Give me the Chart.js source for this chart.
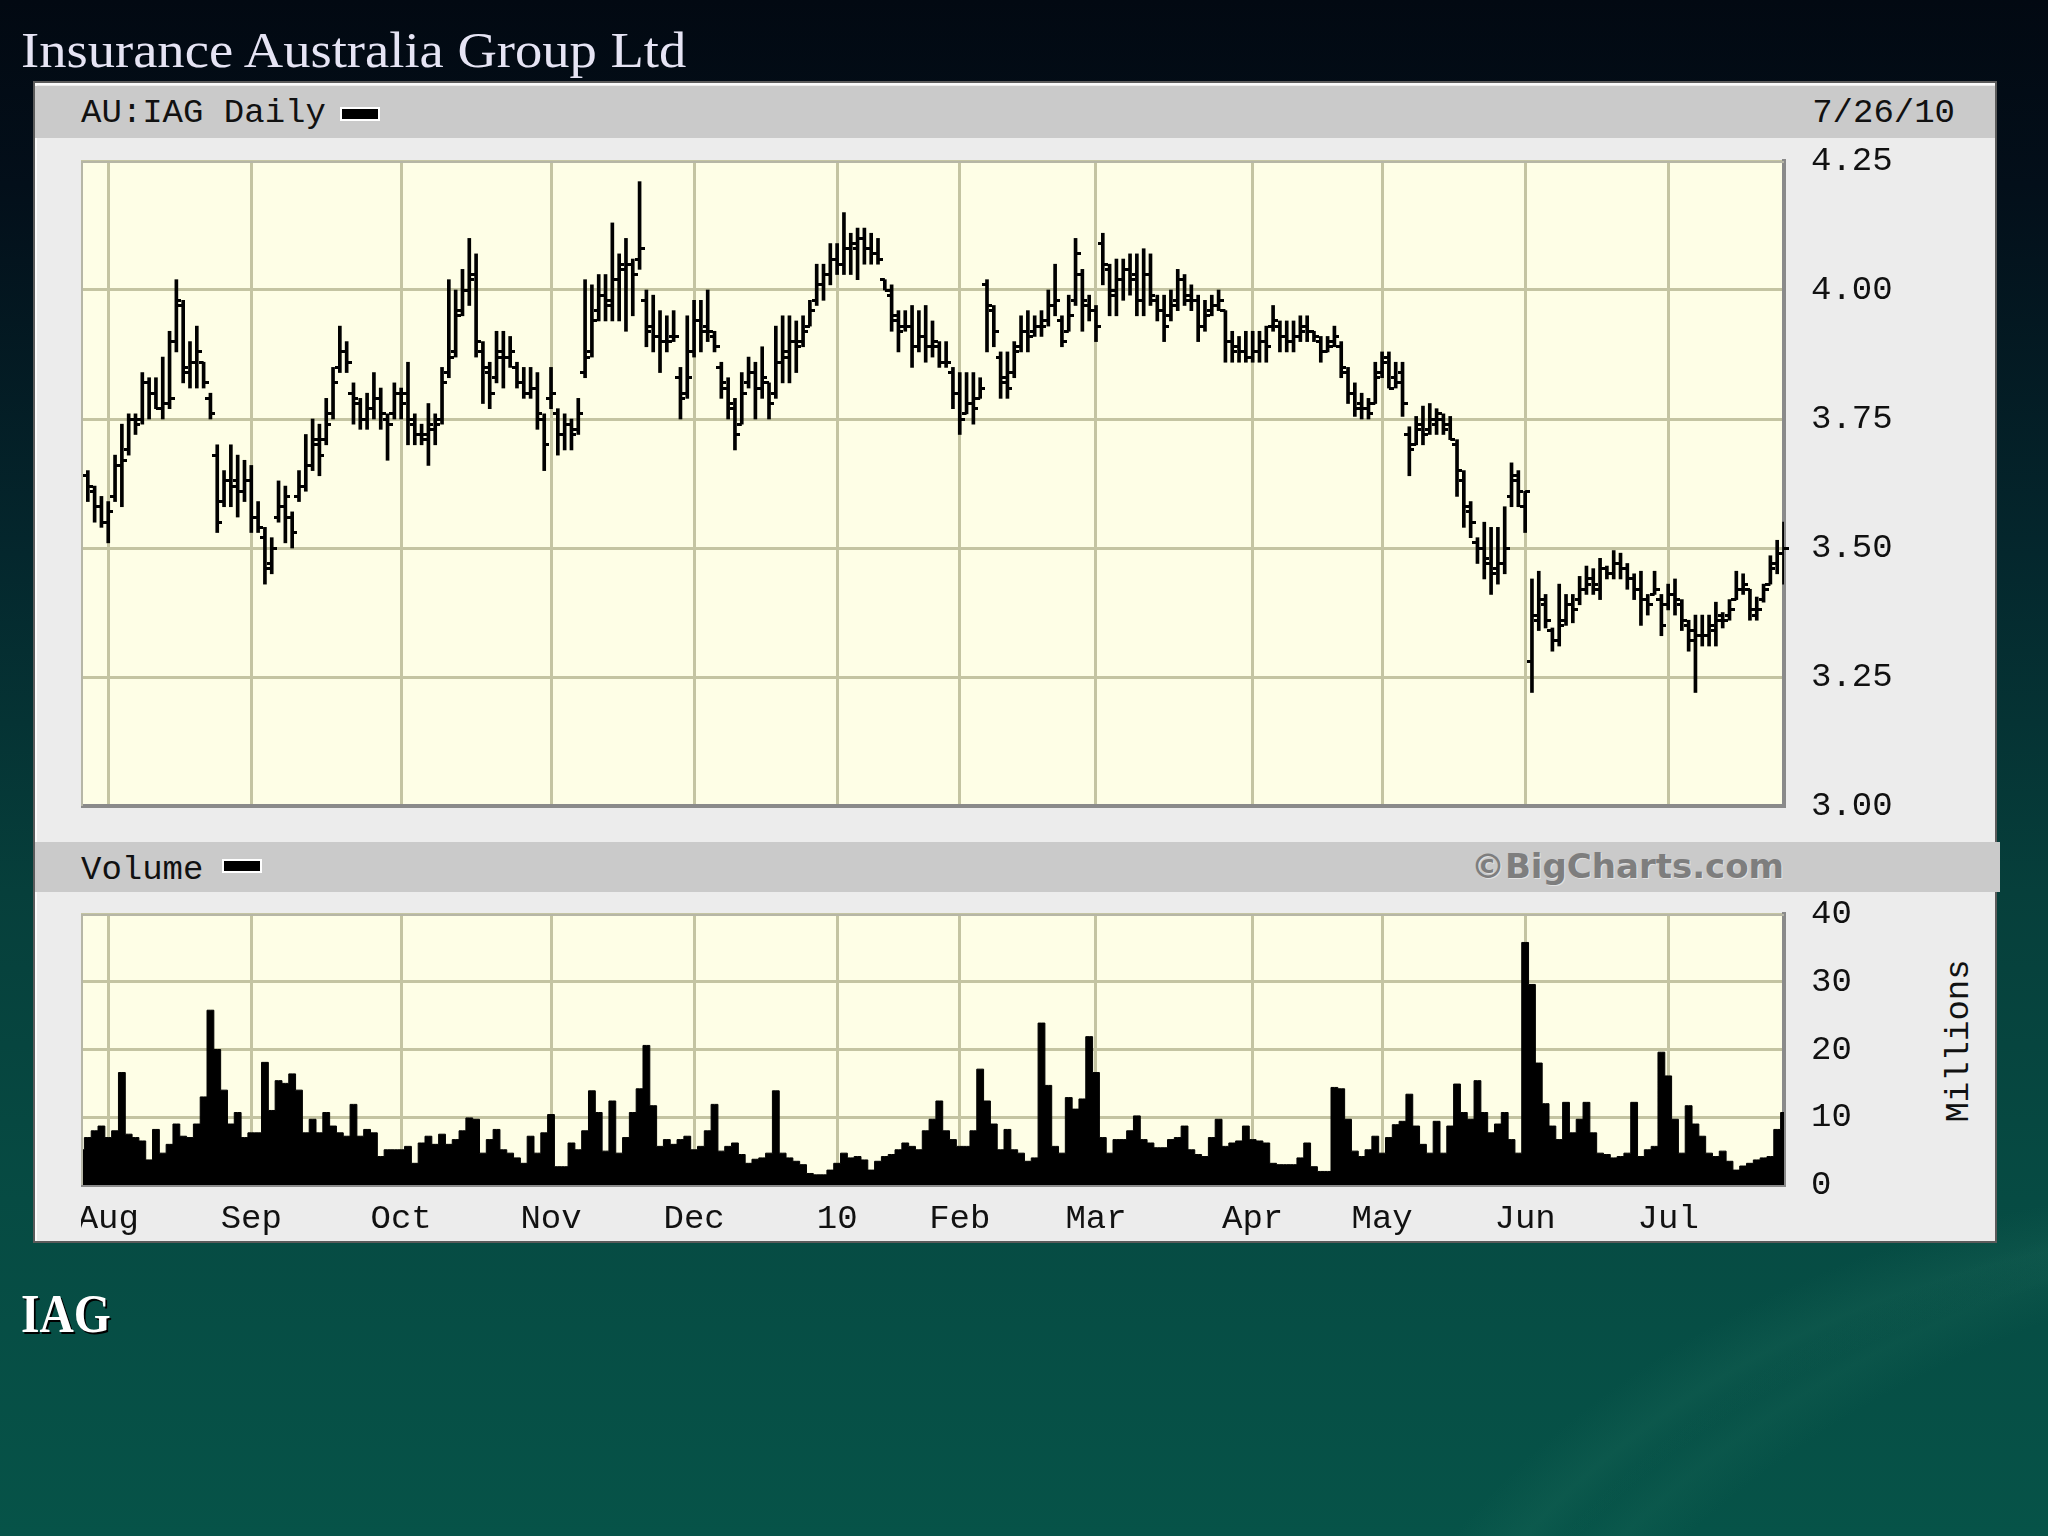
<!DOCTYPE html>
<html>
<head>
<meta charset="utf-8">
<title>Insurance Australia Group Ltd</title>
<script src="https://cdn.jsdelivr.net/npm/chart.js@4.4.1/dist/chart.umd.min.js"></script>
<style>
  html, body { margin: 0; padding: 0; }
  body {
    width: 2048px; height: 1536px; position: relative; overflow: hidden;
    background:
      radial-gradient(ellipse 1500px 1150px at 2300px 1950px, rgba(0,0,0,0) 60%, rgba(40,120,100,0.18) 63%, rgba(0,0,0,0) 67%),
      radial-gradient(ellipse 1700px 1300px at 2500px 2050px, rgba(0,0,0,0) 62%, rgba(40,120,100,0.14) 65%, rgba(0,0,0,0) 68%),
      linear-gradient(to bottom, #020912 0%, #030f1a 12%, #04272d 36%, #063f3b 58%, #064b43 78%, #065348 100%);
    font-family: "Liberation Mono", monospace;
  }
  .abs { position: absolute; white-space: nowrap; }
  #title { left: 21px; top: 25px; font: 51px/51px "Liberation Serif", serif; color: #e6e4f4; transform: scaleX(1.07); transform-origin: left top; }
  #panel { left: 33px; top: 81px; width: 1960px; height: 1158px; background: #ececec; border: 2px solid #5b5b5b; box-shadow: inset 2px 2px 0 #fbfbfb; }
  .bar { background: #cacaca; }
  .mono { font: 34px/34px "Liberation Mono", monospace; color: #111; }
  .key { width: 36px; height: 10px; background: #000; border: 2px solid #fff; }
  #brand { right: 264px; top: 849px; font: bold 34px/34px "DejaVu Sans", sans-serif; color: #7e7e7e; text-shadow: 1px 1px 0 #e2e2e2; }
  #millions { left: 1959px; top: 1041px; transform: translate(-50%, -50%) rotate(-90deg); }
  #iag { left: 21px; top: 1287px; font: bold 54px/54px "Liberation Serif", serif; color: #fff; text-shadow: 2px 2px 0 #000; transform: scaleX(0.88); transform-origin: left top; }
  canvas { position: absolute; }
</style>
</head>
<body>
<div id="title" class="abs">Insurance Australia Group Ltd</div>
<div id="panel" class="abs"></div>
<div class="abs bar" style="left:35px; top:86px; width:1960px; height:52px;"></div>
<div class="abs mono" style="left:81px; top:96px;">AU:IAG Daily</div>
<div class="abs key" style="left:340px; top:107px;"></div>
<div class="abs mono" style="right:93px; top:96px;">7/26/10</div>
<div class="abs bar" style="left:35px; top:842px; width:1965px; height:50px;"></div>
<div class="abs mono" style="left:81px; top:853px;">Volume</div>
<div class="abs key" style="left:222px; top:859px;"></div>
<div id="brand" class="abs">©BigCharts.com</div>
<div id="millions" class="abs mono">Millions</div>
<div id="iag" class="abs">IAG</div>

<canvas id="priceChart" width="1900" height="685" style="left:81px; top:141px;"></canvas>
<canvas id="volumeChart" width="1900" height="346" style="left:81px; top:894px;"></canvas>

<script>
// months shown on the x axis and how many trading days each has in the window
const monthNames = ['', 'Aug', 'Sep', 'Oct', 'Nov', 'Dec', '10', 'Feb', 'Mar', 'Apr', 'May', 'Jun', 'Jul'];
const tradingDays = [4, 21, 22, 22, 21, 21, 18, 20, 23, 19, 21, 21, 18];

const priceTicks = [3.00, 3.25, 3.50, 3.75, 4.00, 4.25];
const volumeTicks = [0, 10, 20, 30, 40];

const opens = [
  3.58, 3.64, 3.61, 3.58, 3.55, 3.60, 3.66, 3.69, 3.75, 3.75,
  3.82, 3.80, 3.77, 3.78, 3.90, 3.97, 3.84, 3.86, 3.86, 3.79,
  3.68, 3.59, 3.63, 3.63, 3.61, 3.63, 3.56, 3.52, 3.47, 3.56,
  3.58, 3.56, 3.60, 3.62, 3.66, 3.71, 3.71, 3.76, 3.85, 3.88,
  3.80, 3.78, 3.75, 3.77, 3.79, 3.75, 3.76, 3.80, 3.80, 3.74,
  3.72, 3.71, 3.73, 3.75, 3.84, 3.88, 3.96, 4.00, 4.03, 3.88,
  3.84, 3.83, 3.87, 3.87, 3.85, 3.82, 3.80, 3.81, 3.75, 3.79,
  3.76, 3.72, 3.74, 3.73, 3.84, 3.88, 3.96, 3.99, 3.98, 4.02,
  4.04, 4.05, 4.06, 3.98, 3.93, 3.91, 3.90, 3.91, 3.83, 3.80,
  3.88, 3.94, 3.93, 3.91, 3.85, 3.81, 3.77, 3.74, 3.82, 3.84,
  3.81, 3.82, 3.80, 3.86, 3.87, 3.90, 3.90, 3.93, 3.98, 4.01,
  4.03, 4.06, 4.05, 4.08, 4.08, 4.10, 4.08, 4.07, 4.02, 3.99,
  3.94, 3.93, 3.93, 3.89, 3.91, 3.89, 3.89, 3.86, 3.84, 3.80,
  3.76, 3.78, 3.79, 4.01, 3.96, 3.87, 3.83, 3.84, 3.89, 3.92,
  3.92, 3.93, 3.94, 3.97, 3.94, 3.92, 3.98, 4.03, 3.97, 3.96,
  4.09, 4.04, 3.99, 4.02, 4.04, 4.03, 3.98, 4.03, 3.98, 3.96,
  3.95, 3.98, 4.02, 3.99, 3.98, 3.93, 3.96, 3.97, 3.96, 3.90,
  3.89, 3.88, 3.87, 3.88, 3.90, 3.93, 3.93, 3.91, 3.90, 3.91,
  3.93, 3.92, 3.90, 3.88, 3.90, 3.89, 3.84, 3.80, 3.78, 3.77,
  3.78, 3.84, 3.87, 3.83, 3.84, 3.72, 3.70, 3.74, 3.73, 3.74,
  3.75, 3.74, 3.70, 3.63, 3.57, 3.51, 3.50, 3.47, 3.46, 3.47,
  3.60, 3.63, 3.58, 3.28, 3.36, 3.39, 3.34, 3.32, 3.36, 3.39,
  3.40, 3.42, 3.44, 3.42, 3.46, 3.45, 3.47, 3.46, 3.44, 3.42,
  3.40, 3.41, 3.40, 3.39, 3.41, 3.39, 3.35, 3.34, 3.33, 3.33,
  3.34, 3.37, 3.37, 3.40, 3.42, 3.42, 3.37, 3.40, 3.43, 3.47,
  3.49
];

const highs = [
  3.65, 3.65, 3.62, 3.60, 3.59, 3.68, 3.74, 3.76, 3.76, 3.84,
  3.83, 3.83, 3.87, 3.92, 4.02, 3.98, 3.90, 3.93, 3.86, 3.80,
  3.70, 3.65, 3.70, 3.68, 3.67, 3.66, 3.59, 3.54, 3.52, 3.63,
  3.62, 3.57, 3.65, 3.72, 3.75, 3.74, 3.79, 3.85, 3.93, 3.90,
  3.82, 3.79, 3.80, 3.84, 3.81, 3.76, 3.82, 3.81, 3.86, 3.76,
  3.74, 3.78, 3.76, 3.85, 4.02, 4.00, 4.04, 4.10, 4.07, 3.90,
  3.86, 3.92, 3.92, 3.91, 3.86, 3.85, 3.85, 3.84, 3.76, 3.85,
  3.77, 3.76, 3.75, 3.79, 4.02, 4.01, 4.03, 4.03, 4.13, 4.07,
  4.10, 4.06, 4.21, 4.00, 3.99, 3.96, 3.95, 3.96, 3.85, 3.95,
  3.98, 3.98, 4.00, 3.92, 3.86, 3.83, 3.79, 3.84, 3.87, 3.86,
  3.89, 3.82, 3.93, 3.95, 3.95, 3.94, 3.95, 3.98, 4.05, 4.05,
  4.09, 4.09, 4.15, 4.11, 4.12, 4.12, 4.11, 4.10, 4.02, 4.01,
  3.96, 3.96, 3.97, 3.96, 3.97, 3.94, 3.90, 3.90, 3.85, 3.84,
  3.84, 3.84, 3.83, 4.02, 3.97, 3.88, 3.88, 3.90, 3.95, 3.96,
  3.95, 3.96, 4.00, 4.05, 3.95, 3.99, 4.10, 4.04, 3.99, 3.97,
  4.11, 4.05, 4.06, 4.06, 4.07, 4.07, 4.08, 4.07, 3.99, 3.99,
  4.00, 4.04, 4.03, 4.01, 3.99, 3.98, 3.99, 4.00, 3.96, 3.92,
  3.91, 3.92, 3.92, 3.92, 3.93, 3.97, 3.94, 3.94, 3.94, 3.95,
  3.95, 3.92, 3.91, 3.91, 3.93, 3.90, 3.85, 3.82, 3.80, 3.79,
  3.86, 3.88, 3.88, 3.86, 3.86, 3.735, 3.755, 3.775, 3.78, 3.77,
  3.76, 3.755, 3.71, 3.65, 3.59, 3.52, 3.55, 3.54, 3.54, 3.58,
  3.665, 3.65, 3.61, 3.44, 3.455, 3.41, 3.345, 3.43, 3.41, 3.41,
  3.445, 3.465, 3.46, 3.48, 3.465, 3.495, 3.49, 3.47, 3.45, 3.455,
  3.41, 3.455, 3.41, 3.43, 3.44, 3.40, 3.36, 3.37, 3.37, 3.37,
  3.395, 3.375, 3.40, 3.455, 3.45, 3.42, 3.405, 3.43, 3.485, 3.515,
  3.55
];

const lows = [
  3.56, 3.59, 3.55, 3.54, 3.51, 3.59, 3.58, 3.68, 3.72, 3.74,
  3.75, 3.77, 3.75, 3.77, 3.88, 3.82, 3.81, 3.81, 3.81, 3.75,
  3.53, 3.58, 3.58, 3.56, 3.59, 3.53, 3.53, 3.43, 3.45, 3.55,
  3.51, 3.50, 3.59, 3.61, 3.65, 3.64, 3.70, 3.75, 3.84, 3.84,
  3.74, 3.73, 3.73, 3.75, 3.73, 3.67, 3.75, 3.75, 3.70, 3.70,
  3.70, 3.66, 3.70, 3.74, 3.83, 3.87, 3.95, 3.97, 3.87, 3.78,
  3.77, 3.82, 3.81, 3.85, 3.81, 3.79, 3.79, 3.73, 3.65, 3.77,
  3.68, 3.69, 3.69, 3.72, 3.83, 3.87, 3.94, 3.94, 3.94, 3.94,
  3.92, 3.95, 4.04, 3.89, 3.88, 3.84, 3.88, 3.90, 3.75, 3.79,
  3.87, 3.88, 3.90, 3.88, 3.79, 3.75, 3.69, 3.74, 3.81, 3.75,
  3.79, 3.75, 3.79, 3.82, 3.82, 3.84, 3.89, 3.93, 3.97, 3.98,
  4.01, 4.03, 4.03, 4.03, 4.02, 4.05, 4.05, 4.05, 4.00, 3.92,
  3.88, 3.92, 3.85, 3.88, 3.86, 3.87, 3.85, 3.85, 3.77, 3.72,
  3.76, 3.74, 3.79, 3.88, 3.89, 3.79, 3.79, 3.83, 3.88, 3.88,
  3.91, 3.91, 3.93, 3.95, 3.89, 3.92, 3.97, 3.92, 3.94, 3.90,
  4.01, 3.95, 3.95, 3.98, 3.99, 3.95, 3.95, 3.97, 3.94, 3.90,
  3.94, 3.96, 3.97, 3.96, 3.90, 3.92, 3.95, 3.96, 3.86, 3.86,
  3.86, 3.86, 3.86, 3.86, 3.86, 3.92, 3.88, 3.88, 3.88, 3.90,
  3.90, 3.90, 3.86, 3.88, 3.89, 3.83, 3.78, 3.755, 3.75, 3.75,
  3.78, 3.83, 3.81, 3.81, 3.755, 3.64, 3.70, 3.70, 3.72, 3.72,
  3.72, 3.71, 3.60, 3.54, 3.52, 3.47, 3.44, 3.41, 3.43, 3.45,
  3.58, 3.58, 3.53, 3.22, 3.34, 3.345, 3.30, 3.31, 3.35, 3.355,
  3.39, 3.41, 3.41, 3.40, 3.44, 3.44, 3.44, 3.42, 3.40, 3.35,
  3.37, 3.41, 3.33, 3.38, 3.37, 3.34, 3.30, 3.22, 3.31, 3.31,
  3.31, 3.345, 3.36, 3.40, 3.41, 3.36, 3.36, 3.395, 3.43, 3.45,
  3.43
];

const closes = [
  3.64, 3.62, 3.58, 3.55, 3.57, 3.66, 3.67, 3.75, 3.74, 3.82,
  3.80, 3.77, 3.78, 3.79, 3.98, 3.85, 3.86, 3.88, 3.82, 3.76,
  3.55, 3.63, 3.62, 3.61, 3.63, 3.56, 3.54, 3.46, 3.50, 3.58,
  3.60, 3.53, 3.62, 3.66, 3.70, 3.68, 3.74, 3.82, 3.88, 3.86,
  3.79, 3.75, 3.77, 3.79, 3.76, 3.74, 3.80, 3.78, 3.75, 3.72,
  3.72, 3.74, 3.74, 3.82, 3.87, 3.95, 4.00, 4.02, 3.90, 3.85,
  3.80, 3.88, 3.87, 3.88, 3.82, 3.80, 3.81, 3.76, 3.70, 3.80,
  3.72, 3.74, 3.72, 3.76, 3.87, 3.94, 3.99, 3.97, 4.02, 4.05,
  4.05, 4.03, 4.08, 3.92, 3.91, 3.90, 3.90, 3.91, 3.79, 3.83,
  3.94, 3.92, 3.92, 3.89, 3.82, 3.78, 3.72, 3.80, 3.84, 3.81,
  3.83, 3.78, 3.86, 3.88, 3.90, 3.89, 3.92, 3.96, 4.01, 4.03,
  4.06, 4.05, 4.08, 4.09, 4.10, 4.08, 4.07, 4.06, 4.00, 3.95,
  3.92, 3.93, 3.89, 3.91, 3.89, 3.90, 3.86, 3.86, 3.80, 3.75,
  3.78, 3.77, 3.81, 3.97, 3.92, 3.82, 3.81, 3.88, 3.92, 3.91,
  3.93, 3.93, 3.97, 3.98, 3.90, 3.95, 4.07, 3.98, 3.96, 3.93,
  4.05, 4.00, 4.02, 4.04, 4.02, 3.98, 4.03, 3.99, 3.96, 3.93,
  3.97, 4.02, 3.98, 3.98, 3.93, 3.95, 3.97, 3.98, 3.90, 3.88,
  3.88, 3.87, 3.88, 3.90, 3.89, 3.94, 3.91, 3.90, 3.91, 3.92,
  3.92, 3.91, 3.88, 3.89, 3.91, 3.85, 3.80, 3.77, 3.77, 3.76,
  3.83, 3.86, 3.81, 3.82, 3.78, 3.69, 3.73, 3.72, 3.75, 3.76,
  3.73, 3.71, 3.65, 3.58, 3.55, 3.50, 3.48, 3.45, 3.47, 3.50,
  3.64, 3.61, 3.61, 3.37, 3.40, 3.36, 3.32, 3.35, 3.39, 3.38,
  3.42, 3.43, 3.43, 3.46, 3.45, 3.47, 3.46, 3.44, 3.42, 3.40,
  3.39, 3.42, 3.35, 3.41, 3.40, 3.36, 3.32, 3.33, 3.33, 3.35,
  3.36, 3.36, 3.38, 3.42, 3.43, 3.38, 3.38, 3.42, 3.46, 3.49,
  3.50
];

// daily volume, millions of shares
const volumes = [
  5.2, 7, 8, 8.7, 7, 8, 16.6, 7.5, 7, 6.5,
  3.7, 8.2, 4.7, 6, 9, 7.2, 7, 9, 13, 25.8,
  20, 14, 9, 10.7, 7, 7.7, 7.7, 18.1, 11, 15.4,
  15, 16.4, 14, 7.7, 9.7, 7.7, 10.7, 8.7, 7.7, 7.2,
  11.9, 7.2, 8.2, 7.7, 4.2, 5.2, 5.2, 5.2, 5.7, 3.2,
  6.2, 7.2, 6, 7.5, 6, 6.7, 8, 9.9, 9.7, 4.7,
  6.7, 8.2, 5.2, 4.7, 4, 3.2, 7.2, 4.7, 7.7, 10.4,
  2.7, 2.7, 6.2, 5.2, 8, 13.9, 10.7, 5, 12.4, 4.7,
  7, 10.7, 14.2, 20.6, 11.7, 5.7, 6.7, 6, 6.7, 7.2,
  5.2, 5.7, 8, 11.9, 5, 5.7, 6.2, 4.5, 3.2, 3.8,
  4, 4.7, 13.9, 4.7, 4, 3.5, 3, 1.7, 1.5, 1.5,
  2.2, 3.2, 4.7, 4, 4.2, 3.7, 2.2, 3.5, 4.2, 4.5,
  5.2, 6.2, 5.7, 5.2, 8, 9.7, 12.4, 8, 6.7, 5.7,
  5.7, 8, 17.1, 12.4, 9, 5.2, 8.2, 5.2, 4.7, 3.5,
  4, 23.9, 14.7, 5.7, 4.7, 12.9, 11.2, 12.7, 21.9, 16.6,
  7, 4.7, 6.7, 6.7, 8, 10.2, 6.7, 6.2, 5.5, 5.5,
  6.7, 7, 8.7, 5.2, 4.5, 4.2, 7, 9.7, 5.7, 6.2,
  6.5, 8.7, 6.7, 6.5, 6.2, 3.2, 3, 3, 3, 4,
  6.2, 2.7, 2, 2, 14.4, 14.2, 9.7, 5, 4.2, 5.2,
  7.2, 4.7, 7, 8.9, 9.4, 13.4, 8.7, 6, 4.7, 9.4,
  4.7, 8.7, 14.9, 10.7, 9.7, 15.4, 10.7, 7.7, 9, 10.7,
  6.7, 4.7, 35.8, 29.6, 18, 12, 8.7, 6.7, 12.2, 7.7,
  9.7, 12.2, 7.7, 4.7, 4.5, 4, 4.2, 4.7, 12.2, 4.2,
  5.2, 5.7, 19.6, 16.1, 9.7, 4.7, 11.7, 9, 7.2, 4.7,
  4.2, 5, 3.5, 2.2, 2.8, 3.2, 3.7, 4, 4.2, 8.2,
  10.7
];

// one category per trading day, month name on the first day of each month
const dayTicks = [];
monthNames.forEach((name, m) => {
    for (let d = 0; d < tradingDays[m]; d++) dayTicks.push(d === 0 && name ? name : '');
});
const dayLabels = dayTicks.map((t, i) => String(i));

const gridColor = '#c4c4a2';
const frameColor = '#8a8a8a';
const labelFont = { family: 'Liberation Mono', size: 34 };

function monthGridColor(ctx) {
    return dayTicks[ctx.index] ? gridColor : 'rgba(0,0,0,0)';
}
function monthGridWidth(ctx) {
    return dayTicks[ctx.index] ? 3 : 0;
}
function noPadding(s) {
    s.paddingLeft = 0;
    s.paddingRight = 0;
    s.paddingTop = 0;
    s.paddingBottom = 0;
}

// small canvases used as point styles for the open (left) and close (right) ticks
function makeTick(side) {
    const c = document.createElement('canvas');
    c.width = 10;
    c.height = 3;
    const g = c.getContext('2d');
    g.fillStyle = '#000';
    g.fillRect(side === 'left' ? 0 : 5, 0, 5, 3);
    return c;
}
const openTick = makeTick('left');
const closeTick = makeTick('right');

// cream plot background and light top/left frame
const plotFrame = {
    id: 'plotFrame',
    beforeDraw(chart) {
        const { ctx, chartArea: a } = chart;
        ctx.save();
        ctx.fillStyle = '#fefee6';
        ctx.fillRect(a.left, a.top, a.right - a.left, a.bottom - a.top);
        ctx.restore();
    },
    afterDraw(chart) {
        const { ctx, chartArea: a } = chart;
        ctx.save();
        ctx.strokeStyle = '#b6b6a6';
        ctx.lineWidth = 2;
        ctx.beginPath();
        ctx.moveTo(a.left + 1, a.bottom);
        ctx.lineTo(a.left + 1, a.top + 1);
        ctx.lineTo(a.right, a.top + 1);
        ctx.stroke();
        ctx.restore();
    }
};

new Chart(document.getElementById('priceChart'), {
    type: 'bar',
    data: {
        labels: dayLabels,
        datasets: [
            {
                data: highs.map((h, i) => [lows[i], h]),
                backgroundColor: '#000',
                borderWidth: 0,
                barThickness: 3
            },
            { type: 'line', data: opens, showLine: false, pointStyle: openTick, pointRadius: 3 },
            { type: 'line', data: closes, showLine: false, pointStyle: closeTick, pointRadius: 3 }
        ]
    },
    options: {
        responsive: false,
        animation: false,
        events: [],
        layout: { autoPadding: false, padding: { top: 20, bottom: 20, left: 0, right: 0 } },
        plugins: { legend: { display: false }, tooltip: { enabled: false } },
        scales: {
            x: {
                offset: false,
                grid: { offset: false, color: monthGridColor, lineWidth: monthGridWidth, drawTicks: false },
                border: { color: frameColor, width: 4 },
                ticks: { display: false, autoSkip: false },
                afterFit: s => { s.height = 0; noPadding(s); }
            },
            y: {
                position: 'right',
                min: priceTicks[0],
                max: priceTicks[priceTicks.length - 1],
                afterBuildTicks: s => { s.ticks = priceTicks.map(v => ({ value: v })); },
                grid: { color: gridColor, lineWidth: 3, drawTicks: false },
                border: { color: frameColor, width: 4 },
                ticks: { padding: 27, color: '#111', font: labelFont, callback: v => v.toFixed(2) },
                afterFit: s => { s.width = 197; noPadding(s); }
            }
        }
    },
    plugins: [plotFrame]
});

new Chart(document.getElementById('volumeChart'), {
    type: 'line',
    data: {
        labels: dayLabels,
        datasets: [{
            data: volumes,
            stepped: 'middle',
            fill: 'origin',
            backgroundColor: '#000',
            borderColor: '#000',
            borderWidth: 1,
            pointRadius: 0
        }]
    },
    options: {
        responsive: false,
        animation: false,
        events: [],
        layout: { autoPadding: false, padding: { top: 20, bottom: 0, left: 0, right: 0 } },
        plugins: { legend: { display: false }, tooltip: { enabled: false } },
        scales: {
            x: {
                offset: false,
                grid: { offset: false, color: monthGridColor, lineWidth: monthGridWidth, drawTicks: false },
                border: { color: frameColor, width: 4 },
                ticks: {
                    autoSkip: false, maxRotation: 0, minRotation: 0, padding: 14,
                    color: '#111', font: labelFont,
                    callback: (v, i) => dayTicks[i]
                },
                afterFit: s => { s.height = 55; noPadding(s); }
            },
            y: {
                position: 'right',
                min: volumeTicks[0],
                max: volumeTicks[volumeTicks.length - 1],
                afterBuildTicks: s => { s.ticks = volumeTicks.map(v => ({ value: v })); },
                grid: { color: gridColor, lineWidth: 3, drawTicks: false },
                border: { color: frameColor, width: 4 },
                ticks: { padding: 27, color: '#111', font: labelFont, callback: v => String(v) },
                afterFit: s => { s.width = 197; noPadding(s); }
            }
        }
    },
    plugins: [plotFrame]
});
</script>
</body>
</html>
